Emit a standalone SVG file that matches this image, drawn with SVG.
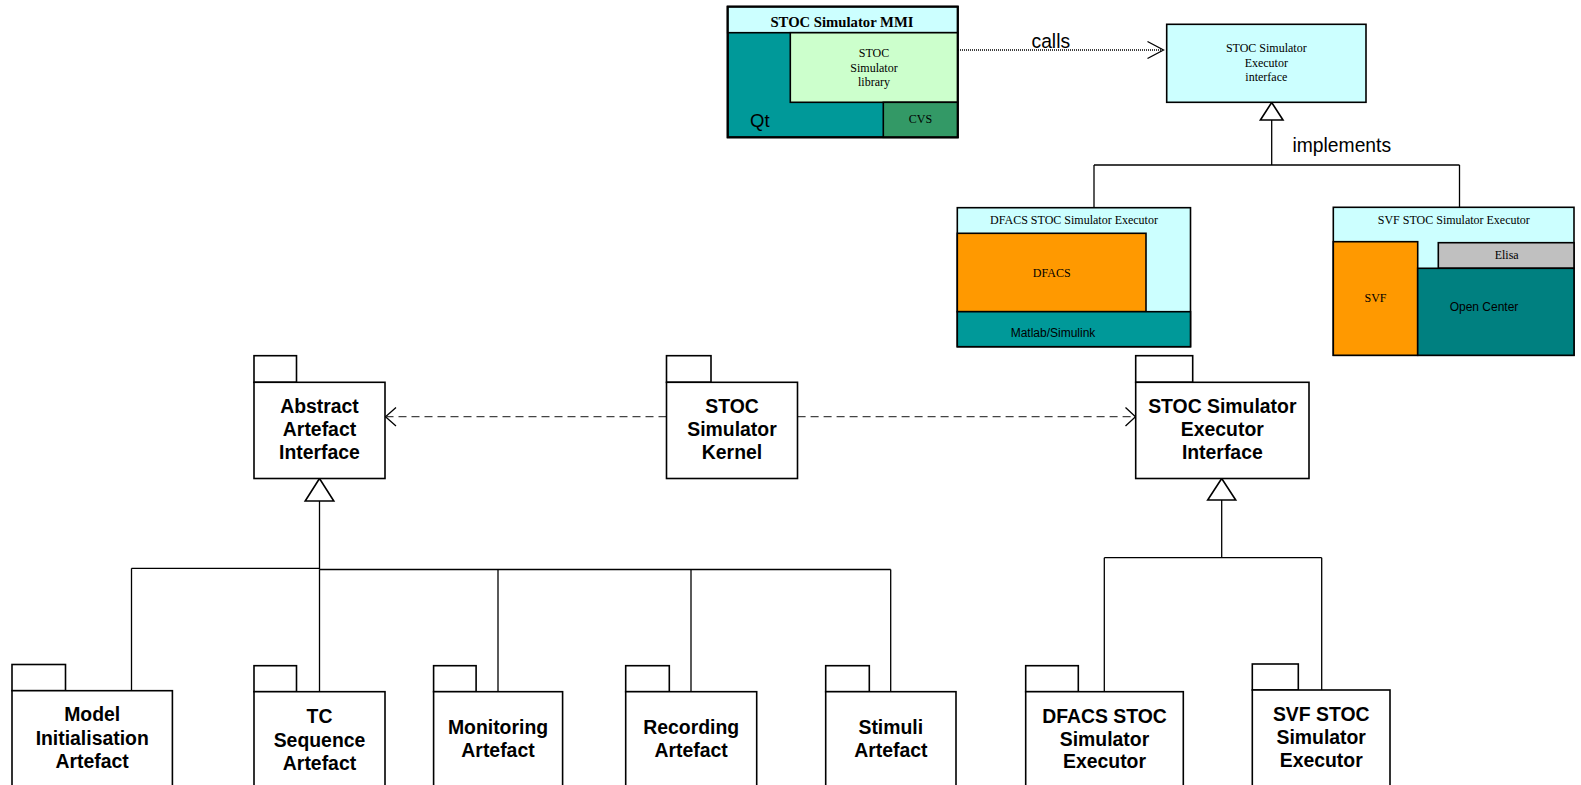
<svg xmlns="http://www.w3.org/2000/svg" width="1581" height="785" viewBox="0 0 1581 785">
<style>
.pkg{fill:#fff;stroke:#000;stroke-width:1.6}
.pt{font-family:"Liberation Sans",Arial,sans-serif;font-weight:bold;font-size:19.4px;text-anchor:middle;fill:#000}
.tm{font-family:"Liberation Serif","Times New Roman",serif;font-size:12px;text-anchor:middle;fill:#000}
.ar{font-family:"Liberation Sans",Arial,sans-serif;font-size:12px;text-anchor:middle;fill:#000}
.lbl{font-family:"Liberation Sans",Arial,sans-serif;font-size:19.3px;fill:#000}
.bx{stroke:#000;stroke-width:1.6}
.ln{fill:none;stroke:#000;stroke-width:1.3}
.dash{fill:none;stroke:#444;stroke-width:1.3;stroke-dasharray:8,5}
.tri{fill:#fff;stroke:#000;stroke-width:1.6}
</style>
<rect width="1581" height="785" fill="#fff"/>

<g id="connectors">
  <!-- calls -->
  <line x1="958" y1="50" x2="1162" y2="50" stroke="#000" stroke-width="1.5" stroke-dasharray="1,1"/>
  <polyline class="ln" points="1147.5,41.5 1163.5,50 1147.5,58.5"/>
  <text class="lbl" x="1031.5" y="48">calls</text>
  <!-- implements -->
  <line class="ln" x1="1271.7" y1="120" x2="1271.7" y2="165"/>
  <line class="ln" x1="1094" y1="165" x2="1459.5" y2="165"/>
  <line class="ln" x1="1094" y1="165" x2="1094" y2="208"/>
  <line class="ln" x1="1459.5" y1="165" x2="1459.5" y2="207.5"/>
  <polygon class="tri" points="1271.7,102.5 1260.4,120 1283,120"/>
  <text class="lbl" x="1292.5" y="152.3">implements</text>
  <!-- dependencies -->
  <line class="dash" x1="666.5" y1="416.7" x2="387" y2="416.7"/>
  <polyline class="ln" points="396,407.5 385.5,416.7 396,426" stroke="#444"/>
  <line class="dash" x1="797.6" y1="416.7" x2="1133" y2="416.7"/>
  <polyline class="ln" points="1125.5,407.5 1135.5,416.7 1125.5,426" stroke="#444"/>
  <!-- artefact generalisation -->
  <line class="ln" x1="319.5" y1="501" x2="319.5" y2="569.5" stroke-width="1.8"/>
  <line class="ln" x1="131.5" y1="568.3" x2="319.5" y2="568.3"/>
  <line class="ln" x1="319.5" y1="569.5" x2="890.7" y2="569.5" stroke-width="1.6"/>
  <line class="ln" x1="131.5" y1="568.3" x2="131.5" y2="690.7"/>
  <line class="ln" x1="319.5" y1="569.5" x2="319.5" y2="691.7"/>
  <line class="ln" x1="498" y1="569.5" x2="498" y2="691.7"/>
  <line class="ln" x1="691" y1="569.5" x2="691" y2="691.7"/>
  <line class="ln" x1="890.7" y1="569.5" x2="890.7" y2="691.7"/>
  <polygon class="tri" points="319.5,478.5 305.2,501 333.8,501"/>
  <!-- executor generalisation -->
  <line class="ln" x1="1221.7" y1="500" x2="1221.7" y2="557.7"/>
  <line class="ln" x1="1104.3" y1="557.7" x2="1321.7" y2="557.7"/>
  <line class="ln" x1="1104.3" y1="557.7" x2="1104.3" y2="691.7"/>
  <line class="ln" x1="1321.7" y1="557.7" x2="1321.7" y2="690"/>
  <polygon class="tri" points="1221.7,478.5 1207.7,500 1235.7,500"/>
</g>

<g id="mmi">
  <rect x="727.7" y="6.7" width="230" height="130.6" fill="#009999" stroke="#000" stroke-width="2"/>
  <rect class="bx" x="727.7" y="6.7" width="230" height="26" fill="#CCFFFF"/>
  <text x="842" y="26.7" font-family="Liberation Serif,Times New Roman,serif" font-weight="bold" font-size="14.7px" text-anchor="middle">STOC Simulator MMI</text>
  <rect class="bx" x="790.3" y="32.7" width="167.4" height="69.6" fill="#CCFFCC"/>
  <text class="tm" x="874" y="56.7">STOC</text>
  <text class="tm" x="874" y="71.5">Simulator</text>
  <text class="tm" x="874" y="86.2">library</text>
  <rect class="bx" x="883.3" y="102.3" width="74.4" height="35" fill="#339966"/>
  <text class="tm" x="920.5" y="123.3">CVS</text>
  <text x="750" y="126.7" font-family="Liberation Sans,Arial,sans-serif" font-size="18.5px">Qt</text>
  <rect x="727.7" y="6.7" width="230" height="130.6" fill="none" stroke="#000" stroke-width="2"/>
</g>

<g id="executor-interface-box">
  <rect class="bx" x="1166.7" y="24.3" width="199.3" height="78" fill="#CCFFFF"/>
  <text class="tm" x="1266.3" y="52.3">STOC Simulator</text>
  <text class="tm" x="1266.3" y="67.3">Executor</text>
  <text class="tm" x="1266.3" y="80.7">interface</text>
</g>

<g id="dfacs-executor-box">
  <rect class="bx" x="957.3" y="207.7" width="233.2" height="139" fill="#CCFFFF"/>
  <text class="tm" x="1074" y="224.3">DFACS STOC Simulator Executor</text>
  <rect class="bx" x="957.3" y="233.3" width="188.7" height="78.4" fill="#FF9900"/>
  <text class="tm" x="1051.7" y="276.7">DFACS</text>
  <rect class="bx" x="957.3" y="311.7" width="233.2" height="35" fill="#009999"/>
  <text class="ar" x="1053" y="336.7">Matlab/Simulink</text>
</g>

<g id="svf-executor-box">
  <rect class="bx" x="1333.3" y="207.3" width="240.7" height="148" fill="#CCFFFF"/>
  <text class="tm" x="1453.8" y="224">SVF STOC Simulator Executor</text>
  <rect class="bx" x="1333.3" y="241.7" width="84.4" height="113.6" fill="#FF9900"/>
  <text class="tm" x="1375.5" y="301.7">SVF</text>
  <rect class="bx" x="1438.3" y="242.7" width="135.7" height="25.6" fill="#C0C0C0"/>
  <text class="tm" x="1506.7" y="259.3">Elisa</text>
  <rect class="bx" x="1417.7" y="268.3" width="156.3" height="87" fill="#008080"/>
  <text class="ar" x="1484" y="311">Open Center</text>
</g>

<g id="abstract-artefact-interface">
  <rect class="pkg" x="254" y="355.7" width="42.5" height="26.6"/>
  <rect class="pkg" x="254" y="382.3" width="131" height="96.2"/>
  <text class="pt" x="319.5" y="413.3">Abstract</text>
  <text class="pt" x="319.5" y="436">Artefact</text>
  <text class="pt" x="319.5" y="458.6">Interface</text>
</g>

<g id="stoc-simulator-kernel">
  <rect class="pkg" x="666.5" y="355.7" width="44.5" height="26.6"/>
  <rect class="pkg" x="666.5" y="382.3" width="131" height="96.2"/>
  <text class="pt" x="732" y="413.3">STOC</text>
  <text class="pt" x="732" y="436">Simulator</text>
  <text class="pt" x="732" y="458.6">Kernel</text>
</g>

<g id="stoc-simulator-executor-interface">
  <rect class="pkg" x="1135.7" y="355.7" width="57" height="26.6"/>
  <rect class="pkg" x="1135.7" y="382.3" width="173.3" height="96.2"/>
  <text class="pt" x="1222.3" y="413.3">STOC Simulator</text>
  <text class="pt" x="1222.3" y="436">Executor</text>
  <text class="pt" x="1222.3" y="458.6">Interface</text>
</g>

<g id="model-initialisation-artefact">
  <rect class="pkg" x="12" y="664.5" width="53.5" height="26.2"/>
  <rect class="pkg" x="12" y="690.7" width="160.4" height="110"/>
  <text class="pt" x="92.2" y="721">Model</text>
  <text class="pt" x="92.2" y="744.5">Initialisation</text>
  <text class="pt" x="92.2" y="768">Artefact</text>
</g>

<g id="tc-sequence-artefact">
  <rect class="pkg" x="254" y="665.7" width="42.5" height="26"/>
  <rect class="pkg" x="254" y="691.7" width="131" height="110"/>
  <text class="pt" x="319.5" y="723">TC</text>
  <text class="pt" x="319.5" y="746.5">Sequence</text>
  <text class="pt" x="319.5" y="769.5">Artefact</text>
</g>

<g id="monitoring-artefact">
  <rect class="pkg" x="433.6" y="665.7" width="42.5" height="26"/>
  <rect class="pkg" x="433.6" y="691.7" width="129" height="110"/>
  <text class="pt" x="498" y="734">Monitoring</text>
  <text class="pt" x="498" y="757.3">Artefact</text>
</g>

<g id="recording-artefact">
  <rect class="pkg" x="625.7" y="665.7" width="43.6" height="26"/>
  <rect class="pkg" x="625.7" y="691.7" width="131" height="110"/>
  <text class="pt" x="691.2" y="734">Recording</text>
  <text class="pt" x="691.2" y="757.3">Artefact</text>
</g>

<g id="stimuli-artefact">
  <rect class="pkg" x="825.7" y="665.7" width="43.6" height="26"/>
  <rect class="pkg" x="825.7" y="691.7" width="130.3" height="110"/>
  <text class="pt" x="890.8" y="734">Stimuli</text>
  <text class="pt" x="890.8" y="757.3">Artefact</text>
</g>

<g id="dfacs-stoc-simulator-executor">
  <rect class="pkg" x="1025.7" y="665.7" width="52.6" height="26"/>
  <rect class="pkg" x="1025.7" y="691.7" width="157.6" height="110"/>
  <text class="pt" x="1104.5" y="722.7">DFACS STOC</text>
  <text class="pt" x="1104.5" y="745.5">Simulator</text>
  <text class="pt" x="1104.5" y="768.3">Executor</text>
</g>

<g id="svf-stoc-simulator-executor">
  <rect class="pkg" x="1252.3" y="664" width="46" height="26"/>
  <rect class="pkg" x="1252.3" y="690" width="137.7" height="110"/>
  <text class="pt" x="1321.2" y="721">SVF STOC</text>
  <text class="pt" x="1321.2" y="744">Simulator</text>
  <text class="pt" x="1321.2" y="766.7">Executor</text>
</g>
</svg>
